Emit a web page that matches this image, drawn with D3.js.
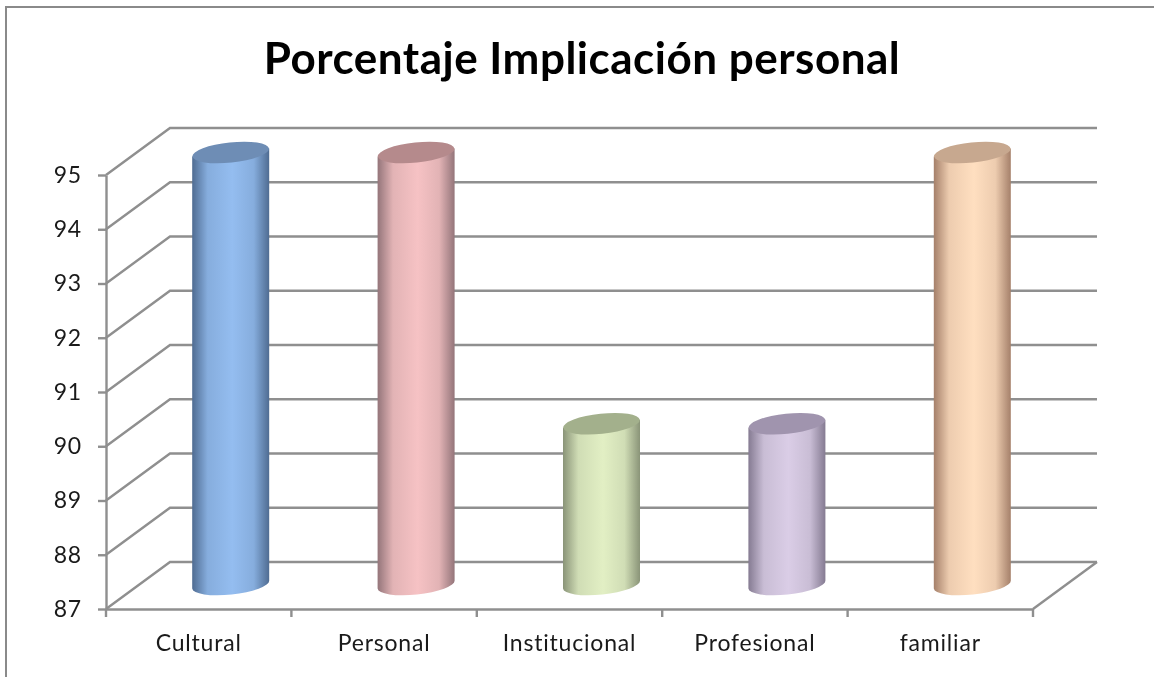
<!DOCTYPE html>
<html>
<head>
<meta charset="utf-8">
<script src="https://cdnjs.cloudflare.com/ajax/libs/d3/7.8.5/d3.min.js"></script>
<style>
  html, body { margin: 0; padding: 0; background: #fff; }
  svg { display: block; filter: blur(0.35px); }
  .tick text { font-family: Lato, sans-serif; font-size: 23px; fill: #1a1a1a; letter-spacing: 0.8px; }
</style>
</head>
<body>
<svg id="chart" width="1154" height="677"></svg>
<script>
const categories = ["Cultural", "Personal", "Institucional", "Profesional", "familiar"]
const values = [95, 95, 90, 90, 95]
const yTicks = [87, 88, 89, 90, 91, 92, 93, 94, 95]
const bodyColors = ["#94bdf0", "#f6c2c4", "#e2efc4", "#dacde6", "#ffdfc0"]
const edgeColors = ["#4f6c92", "#94757a", "#8a9478", "#857b92", "#a5806a"]
const capColors = ["#6e8db5", "#b58a8c", "#a3b08c", "#a094ae", "#c7a88f"]

const svg = d3.select("#chart")
const gridColor = "#8f8f8f"

// oblique offset of the back wall, measured on the picture
const depthX = 64
const depthY = -47

const x = d3.scaleBand().domain(categories).range([106, 1033])
const y = d3.scaleLinear().domain([87, 95]).range([609, 175])

const barRx = 38.5
const capRy = 10
const capTilt = -6

// chart frame, the right edge is cut off in the original
svg.append("path")
  .attr("d", "M6,677V7H1154")
  .attr("fill", "none")
  .attr("stroke", "#8a8a8a")
  .attr("stroke-width", 2)

svg.append("text")
  .attr("x", 582)
  .attr("y", 74)
  .attr("text-anchor", "middle")
  .attr("font-family", "Lato, sans-serif")
  .attr("font-weight", 700)
  .attr("font-size", 44)
  .attr("letter-spacing", 0.5)
  .attr("fill", "#000")
  .text("Porcentaje Implicación personal")

// walls: side diagonals and back gridlines
const walls = svg.append("g")
  .attr("fill", "none")
  .attr("stroke", gridColor)
  .attr("stroke-width", 2.4)

walls.selectAll(".grid")
  .data(yTicks)
  .enter()
  .append("polyline")
  .attr("class", "grid")
  .attr("points", d => {
    const x0 = x.range()[0]
    const x1 = x.range()[1]
    return `${x0},${y(d)} ${x0 + depthX},${y(d) + depthY} ${x1 + depthX},${y(d) + depthY}`
  })

// right edge of the floor
walls.append("line")
  .attr("x1", x.range()[1])
  .attr("y1", y(87))
  .attr("x2", x.range()[1] + depthX)
  .attr("y2", y(87) + depthY)

// axes
const yAxis = d3.axisLeft(y).tickValues(yTicks).tickSize(8).tickPadding(16).tickSizeOuter(0)
const xAxis = d3.axisBottom(x).tickSize(0).tickPadding(26).tickSizeOuter(0)

const yG = svg.append("g").attr("transform", `translate(${x.range()[0]},0)`).call(yAxis)
const xG = svg.append("g").attr("transform", `translate(0,${y(87)})`).call(xAxis)

yG.selectAll(".domain, line").attr("stroke", gridColor).attr("stroke-width", 2.4)
xG.selectAll(".domain").attr("stroke", gridColor).attr("stroke-width", 2.4)
xG.selectAll(".tick text").attr("dy", "0.71em")

// x tick marks sit between the categories
xG.selectAll(".sep")
  .data(categories.map(d => x(d)).concat(x.range()[1]))
  .enter()
  .append("line")
  .attr("class", "sep")
  .attr("x1", d => d)
  .attr("x2", d => d)
  .attr("y1", 0)
  .attr("y2", 8)
  .attr("stroke", gridColor)
  .attr("stroke-width", 2.4)

// cylinders
const defs = svg.append("defs")
categories.forEach((c, i) => {
  const g = defs.append("linearGradient").attr("id", "bar" + i)
  g.append("stop").attr("offset", "0%").attr("stop-color", edgeColors[i])
  g.append("stop").attr("offset", "20%").attr("stop-color", d3.interpolateRgb(edgeColors[i], bodyColors[i])(0.8))
  g.append("stop").attr("offset", "52%").attr("stop-color", bodyColors[i])
  g.append("stop").attr("offset", "80%").attr("stop-color", d3.interpolateRgb(edgeColors[i], bodyColors[i])(0.8))
  g.append("stop").attr("offset", "100%").attr("stop-color", edgeColors[i])
})

const tiltRad = capTilt * Math.PI / 180
const rise = barRx * Math.sin(tiltRad)

// cap and base centres, the cylinder stands mid way into the depth
const capY = v => y(v) + depthY / 2 + 1
const baseY = y(87) + depthY / 2 - 1

const bars = svg.selectAll(".bar")
  .data(categories.map((c, i) => ({ c, i, v: values[i] })))
  .enter()
  .append("g")
  .attr("class", "bar")
  .attr("transform", d => `translate(${x(d.c) + x.bandwidth() / 2 + depthX / 2},0)`)

bars.append("path")
  .attr("fill", d => `url(#bar${d.i})`)
  .attr("d", d => {
    const top = capY(d.v)
    return `M${-barRx},${top - rise}` +
      `L${-barRx},${baseY - rise}` +
      `A${barRx},${capRy} ${capTilt} 0 0 ${barRx},${baseY + rise}` +
      `L${barRx},${top + rise}Z`
  })

bars.append("ellipse")
  .attr("cx", 0)
  .attr("cy", d => capY(d.v))
  .attr("rx", barRx)
  .attr("ry", capRy)
  .attr("transform", d => `rotate(${capTilt} 0 ${capY(d.v)})`)
  .attr("fill", d => capColors[d.i])
</script>
</body>
</html>
